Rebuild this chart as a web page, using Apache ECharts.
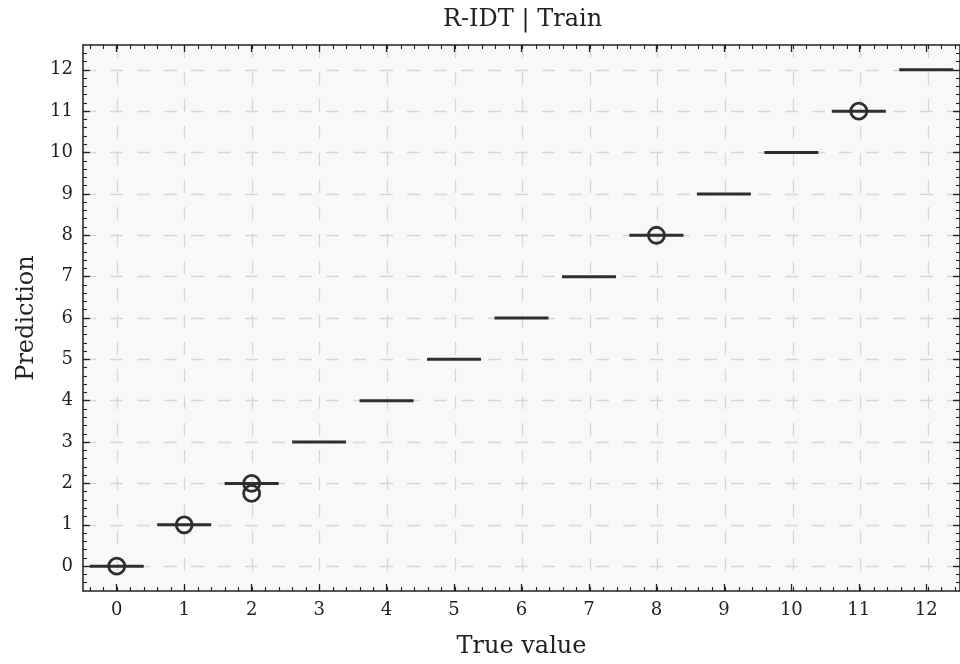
<!DOCTYPE html>
<html>
<head>
<meta charset="utf-8">
<script src="https://cdn.jsdelivr.net/npm/echarts@6/dist/echarts.min.js"></script>
<style>
  html, body { margin: 0; padding: 0; background: #ffffff; }
  #chart { width: 960px; height: 664px; }
</style>
</head>
<body>
<div id="chart"></div>
<script>
// Categories on the x axis (true class value)
const categories = ['0', '1', '2', '3', '4', '5', '6', '7', '8', '9', '10', '11', '12'];

// Box statistics per category (each box has collapsed onto its median)
const whiskerLow  = [0, 1, 2, 3, 4, 5, 6, 7, 8, 9, 10, 11, 12];
const quartile1   = [0, 1, 2, 3, 4, 5, 6, 7, 8, 9, 10, 11, 12];
const median      = [0, 1, 2, 3, 4, 5, 6, 7, 8, 9, 10, 11, 12];
const quartile3   = [0, 1, 2, 3, 4, 5, 6, 7, 8, 9, 10, 11, 12];
const whiskerHigh = [0, 1, 2, 3, 4, 5, 6, 7, 8, 9, 10, 11, 12];

// Outlier points: category index and predicted value
const outlierX = [0, 1, 2, 2, 8, 11];
const outlierY = [0, 1, 2, 1.76, 8, 11];

// Axis ranges
const xRange = [-0.5, 12.5];
const yRange = [-0.6, 12.6];
const yTickValues = [0, 12];

const FONT = 'DejaVu Serif';
const INK = '#222222';
const BOX_INK = '#2e2e2e';

// Plot frame geometry (pixels)
const L = 83, T = 45, W = 879, H = 546;
const ux = W / (xRange[1] - xRange[0]);
const uy = H / (yRange[1] - yRange[0]);

const boxData = categories.map((c, i) => [whiskerLow[i], quartile1[i], median[i], quartile3[i], whiskerHigh[i]]);
const outlierData = outlierX.map((x, i) => [x, outlierY[i]]);

const gridLineStyle = { color: '#d6d6d6', width: 1.3, type: [13, 14] };
const minorTick = { show: true, inside: true, length: 4, lineStyle: { color: INK, width: 1.1 } };
const majorTick = { show: true, inside: true, length: 7, lineStyle: { color: INK, width: 1.3 } };
const spine = { show: true, onZero: false, lineStyle: { color: INK, width: 1.5 } };

const chart = echarts.init(document.getElementById('chart'), null, { renderer: 'canvas' });

chart.setOption({
  animation: false,
  backgroundColor: '#ffffff',
  title: {
    text: 'R-IDT | Train',
    left: L + W / 2 - 5,
    top: 3,
    textAlign: 'center',
    textStyle: { fontFamily: FONT, fontSize: 24, fontWeight: 'normal', color: INK }
  },
  grid: [
    // 0: frame + series
    { left: L, top: T, width: W, height: H, show: true, backgroundColor: '#f8f8f8', borderWidth: 0 },
    // 1: integer y ticks, labels, horizontal grid lines
    { left: L, top: T + (yRange[1] - yTickValues[1]) * uy, width: W, height: (yTickValues[1] - yTickValues[0]) * uy, show: false },
    // 2: x minor ticks
    { left: L + 0.1 * ux, top: T, width: 12.8 * ux, height: H, show: false },
    // 3: y minor ticks
    { left: L, top: T + 0.2 * uy, width: W, height: 12.8 * uy, show: false },
    // 4: vertical grid lines at integers
    { left: L + 0.5 * ux, top: T, width: 12 * ux, height: H, show: false }
  ],
  xAxis: [
    {
      gridIndex: 0, type: 'category', data: categories, position: 'bottom', boundaryGap: true,
      axisLine: spine, axisTick: Object.assign({ alignWithLabel: true, interval: 0 }, majorTick),
      axisLabel: { interval: 0, fontFamily: FONT, fontSize: 18, color: INK, margin: 10 },
      splitLine: { show: false },
      name: 'True value', nameLocation: 'middle', nameGap: 44,
      nameTextStyle: { fontFamily: FONT, fontSize: 24, color: INK }
    },
    {
      gridIndex: 0, type: 'category', data: categories, position: 'top', boundaryGap: true,
      axisLine: spine, axisTick: Object.assign({ alignWithLabel: true, interval: 0 }, majorTick),
      axisLabel: { show: false }, splitLine: { show: false }
    },
    { gridIndex: 1, type: 'value', show: false, min: 0, max: 1 },
    {
      gridIndex: 2, type: 'value', min: -0.4, max: 12.4, interval: 0.2, position: 'bottom',
      axisLine: { show: false }, axisTick: minorTick, axisLabel: { show: false }, splitLine: { show: false }
    },
    {
      gridIndex: 2, type: 'value', min: -0.4, max: 12.4, interval: 0.2, position: 'top',
      axisLine: { show: false }, axisTick: minorTick, axisLabel: { show: false }, splitLine: { show: false }
    },
    { gridIndex: 3, type: 'value', show: false, min: 0, max: 1 },
    {
      gridIndex: 4, type: 'value', min: 0, max: 12, interval: 1, position: 'bottom',
      axisLine: { show: false }, axisTick: { show: false }, axisLabel: { show: false },
      splitLine: { show: true, lineStyle: gridLineStyle }
    }
  ],
  yAxis: [
    {
      gridIndex: 0, type: 'value', min: yRange[0], max: yRange[1], position: 'left',
      axisLine: spine, axisTick: { show: false }, axisLabel: { show: false }, splitLine: { show: false },
      name: 'Prediction', nameLocation: 'middle', nameGap: 44,
      nameTextStyle: { fontFamily: FONT, fontSize: 24, color: INK }
    },
    {
      gridIndex: 0, type: 'value', min: yRange[0], max: yRange[1], position: 'right',
      axisLine: spine, axisTick: { show: false }, axisLabel: { show: false }, splitLine: { show: false }
    },
    {
      gridIndex: 1, type: 'value', min: yTickValues[0], max: yTickValues[1], interval: 1, position: 'left',
      axisLine: { show: false }, axisTick: majorTick,
      axisLabel: { fontFamily: FONT, fontSize: 18, color: INK, margin: 10 },
      splitLine: { show: true, lineStyle: gridLineStyle }
    },
    {
      gridIndex: 1, type: 'value', min: yTickValues[0], max: yTickValues[1], interval: 1, position: 'right',
      axisLine: { show: false }, axisTick: majorTick, axisLabel: { show: false }, splitLine: { show: false }
    },
    { gridIndex: 2, type: 'value', show: false, min: 0, max: 1 },
    {
      gridIndex: 3, type: 'value', min: -0.4, max: 12.4, interval: 0.2, position: 'left',
      axisLine: { show: false }, axisTick: minorTick, axisLabel: { show: false }, splitLine: { show: false }
    },
    {
      gridIndex: 3, type: 'value', min: -0.4, max: 12.4, interval: 0.2, position: 'right',
      axisLine: { show: false }, axisTick: minorTick, axisLabel: { show: false }, splitLine: { show: false }
    },
    { gridIndex: 4, type: 'value', show: false, min: 0, max: 1 }
  ],
  series: [
    {
      type: 'boxplot',
      xAxisIndex: 0, yAxisIndex: 0,
      data: boxData,
      boxWidth: [54, 54],
      itemStyle: { color: 'rgba(0,0,0,0)', borderColor: BOX_INK, borderWidth: 3 },
      emphasis: { disabled: true },
      z: 3
    },
    {
      type: 'scatter',
      xAxisIndex: 0, yAxisIndex: 0,
      data: outlierData,
      symbol: 'circle',
      symbolSize: 16,
      itemStyle: { color: 'rgba(0,0,0,0)', borderColor: BOX_INK, borderWidth: 2.8, opacity: 1 },
      emphasis: { disabled: true },
      z: 4
    }
  ]
});
</script>
</body>
</html>
